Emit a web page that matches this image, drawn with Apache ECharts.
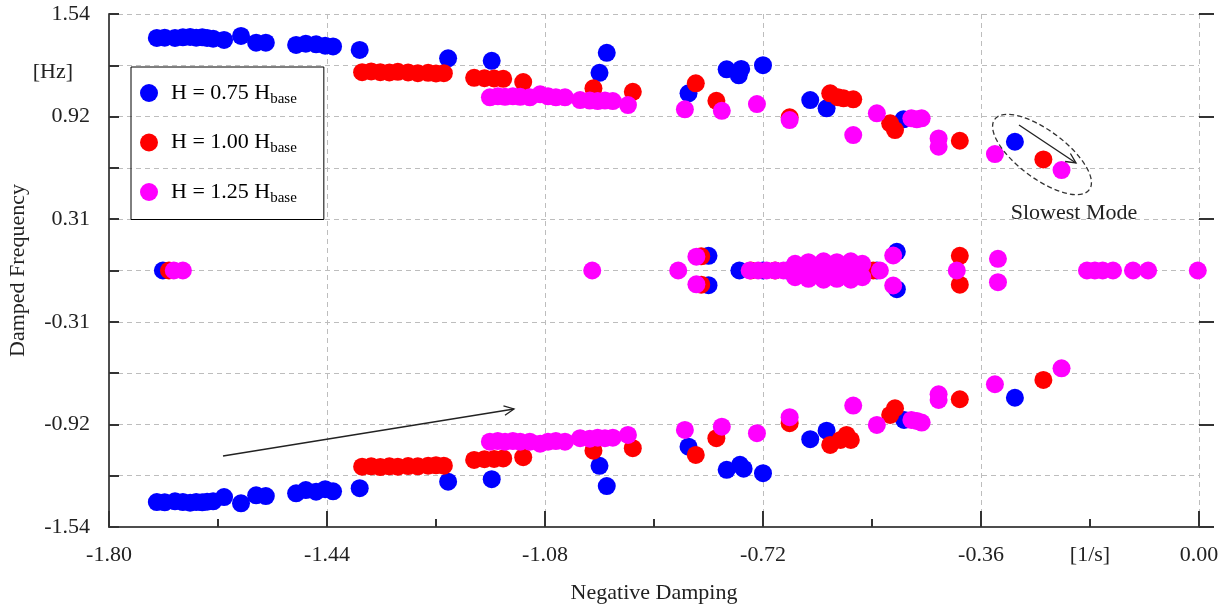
<!DOCTYPE html>
<html><head><meta charset="utf-8">
<script src="https://cdn.jsdelivr.net/npm/echarts@6/dist/echarts.min.js"></script>
<style>html,body{margin:0;padding:0;background:#fff}#chart{width:1231px;height:608px}</style>
</head><body><div id="chart"></div>
<script>
const FONT = 'Liberation Serif';
const seriesNames = ['H = 0.75 Hbase', 'H = 1.00 Hbase', 'H = 1.25 Hbase'];
const seriesColors = ['#0000ff', '#ff0000', '#ff00ff'];
const xTickLabels = ['-1.80', '-1.44', '-1.08', '-0.72', '-0.36', '0.00'];
const yTickLabels = ['-1.54', '-0.92', '-0.31', '0.31', '0.92', '1.54'];
const xUnitLabel = '[1/s]';
const yUnitLabel = '[Hz]';

// H = 0.75 Hbase
const blueUpper = [[-1.721,1.396],[-1.708,1.398],[-1.691,1.396],[-1.678,1.400],[-1.666,1.402],[-1.656,1.398],[-1.646,1.400],[-1.638,1.396],[-1.628,1.392],[-1.610,1.384],[-1.582,1.408],[-1.557,1.368],[-1.541,1.368],
  [-1.491,1.354],[-1.475,1.362],[-1.458,1.358],[-1.443,1.350],[-1.430,1.345],
  [-1.386,1.324],[-1.240,1.274],[-1.168,1.259],[-0.990,1.187],[-0.978,1.307],[-0.843,1.064],[-0.780,1.208],[-0.756,1.210],[-0.760,1.172],[-0.720,1.233],[-0.642,1.023],[-0.615,0.974],[-0.488,0.908],[-0.304,0.773]];
const blueReal = [[-1.711,0],[-0.810,0.088],[-0.810,-0.088],[-0.759,0],[-0.72,0],[-0.68,0],[-0.64,0],[-0.60,0],[-0.56,0],[-0.532,0],[-0.499,0.112],[-0.499,-0.112]];
const blueLower = [[-1.721,-1.390],[-1.708,-1.392],[-1.691,-1.386],[-1.678,-1.390],[-1.666,-1.394],[-1.656,-1.390],[-1.646,-1.392],[-1.638,-1.388],[-1.628,-1.386],[-1.610,-1.360],[-1.582,-1.398],[-1.557,-1.350],[-1.541,-1.354],
  [-1.491,-1.338],[-1.475,-1.318],[-1.458,-1.328],[-1.443,-1.313],[-1.430,-1.326],
  [-1.386,-1.307],[-1.240,-1.268],[-1.168,-1.253],[-0.990,-1.173],[-0.978,-1.294],[-0.843,-1.058],[-0.780,-1.197],[-0.758,-1.167],[-0.752,-1.190],[-0.720,-1.217],[-0.642,-1.013],[-0.615,-0.962],[-0.487,-0.897],[-0.304,-0.764]];

// H = 1.00 Hbase
const redUpper = [[-1.382,1.191],[-1.367,1.195],[-1.352,1.191],[-1.337,1.189],[-1.323,1.193],[-1.306,1.189],[-1.290,1.185],[-1.273,1.187],[-1.260,1.183],[-1.247,1.185],
  [-1.197,1.157],[-1.180,1.155],[-1.164,1.153],[-1.149,1.151],[-1.116,1.131],[-1.000,1.094],[-0.935,1.073],[-0.831,1.124],[-0.797,1.019],[-0.676,0.920],
  [-0.609,1.064],[-0.596,1.040],[-0.587,1.034],[-0.571,1.028],[-0.510,0.884],[-0.502,0.843],[-0.395,0.779],[-0.257,0.667]];
const redReal = [[-1.701,0],[-0.822,0.085],[-0.822,-0.085],[-0.74,0],[-0.70,0],[-0.66,0],[-0.62,0],[-0.58,0],[-0.538,0],[-0.395,0.088],[-0.395,-0.085]];
const redLower = [[-1.382,-1.178],[-1.367,-1.176],[-1.352,-1.180],[-1.337,-1.176],[-1.323,-1.178],[-1.306,-1.174],[-1.290,-1.176],[-1.273,-1.172],[-1.260,-1.170],[-1.247,-1.172],
  [-1.197,-1.137],[-1.180,-1.133],[-1.164,-1.131],[-1.149,-1.128],[-1.116,-1.121],[-1.000,-1.082],[-0.935,-1.067],[-0.831,-1.107],[-0.797,-1.007],[-0.676,-0.917],
  [-0.609,-1.047],[-0.592,-1.017],[-0.582,-0.987],[-0.575,-1.017],[-0.510,-0.867],[-0.502,-0.827],[-0.395,-0.773],[-0.257,-0.657]];

// H = 1.25 Hbase
const pinkUpper = [[-1.171,1.040],[-1.158,1.046],[-1.146,1.043],[-1.133,1.046],[-1.121,1.043],[-1.105,1.040],[-1.088,1.058],[-1.075,1.046],[-1.062,1.040],[-1.047,1.040],
  [-1.022,1.023],[-1.006,1.020],[-0.993,1.017],[-0.981,1.020],[-0.968,1.017],[-0.943,0.993],
  [-0.849,0.968],[-0.788,0.959],[-0.730,0.999],[-0.676,0.903],[-0.571,0.813],[-0.532,0.944],[-0.475,0.914],[-0.466,0.908],[-0.458,0.914],[-0.430,0.793],[-0.430,0.743],[-0.337,0.699],[-0.227,0.603]];
const pinkReal = [[-1.693,0],[-1.678,0],[-1.002,0],[-0.860,0],[-0.830,0.083],[-0.830,-0.083],
  [-0.742,0],[-0.728,0],[-0.714,0],[-0.700,0],[-0.686,0],[-0.674,0],
  [-0.667,0.040],[-0.667,-0.040],[-0.655,0.020],[-0.655,-0.020],[-0.645,0.050],[-0.645,-0.050],[-0.632,0.030],[-0.632,-0.030],
  [-0.620,0.055],[-0.620,-0.055],[-0.608,0.020],[-0.608,-0.020],[-0.598,0.050],[-0.598,-0.050],[-0.586,0.030],[-0.586,-0.030],
  [-0.575,0.055],[-0.575,-0.055],[-0.565,0.025],[-0.565,-0.025],[-0.556,0.040],[-0.556,-0.040],
  [-0.527,0],[-0.505,0.09],[-0.505,-0.09],[-0.400,0],[-0.332,0.07],[-0.332,-0.07],
  [-0.185,0],[-0.172,0],[-0.159,0],[-0.142,0],[-0.109,0],[-0.084,0],[-0.002,0]];
const pinkLower = [[-1.171,-1.028],[-1.158,-1.024],[-1.146,-1.028],[-1.133,-1.024],[-1.121,-1.028],[-1.105,-1.028],[-1.088,-1.040],[-1.075,-1.028],[-1.062,-1.024],[-1.047,-1.028],
  [-1.022,-1.007],[-1.006,-1.010],[-0.993,-1.004],[-0.981,-1.007],[-0.968,-1.004],[-0.943,-0.987],
  [-0.849,-0.957],[-0.788,-0.938],[-0.730,-0.977],[-0.676,-0.881],[-0.571,-0.811],[-0.532,-0.927],[-0.475,-0.897],[-0.466,-0.903],[-0.458,-0.913],[-0.430,-0.777],[-0.430,-0.743],[-0.337,-0.683],[-0.227,-0.587]];

const seriesData = [
  blueUpper.concat(blueReal, blueLower),
  redUpper.concat(redReal, redLower),
  pinkUpper.concat(pinkReal, pinkLower)
];

function arrowHead(x1, y1, x2, y2, len, ang) {
  const a = Math.atan2(y2 - y1, x2 - x1);
  return [[x2 - len * Math.cos(a - ang), y2 - len * Math.sin(a - ang)], [x2, y2], [x2 - len * Math.cos(a + ang), y2 - len * Math.sin(a + ang)]];
}
const arrowA = [[223, 456], [514, 409]];
const arrowB = [[1019, 125], [1076, 163]];

const chart = echarts.init(document.getElementById('chart'), null, { renderer: 'canvas' });
const gridLine = { show: true, lineStyle: { color: '#bdbdbd', type: [5, 4], width: 1 } };
const axisLineStyle = { color: '#4d4d4d', width: 2 };

chart.setOption({
  animation: false,
  backgroundColor: '#fff',
  grid: { left: 109, right: 32, top: 14, bottom: 81, containLabel: false, outerBoundsMode: 'none' },
  legend: {
    orient: 'vertical', left: 131, top: 67,
    padding: [15, 27, 14, 9], itemGap: 25, itemWidth: 18, itemHeight: 18,
    icon: 'circle', borderColor: '#000', borderWidth: 1,
    data: seriesNames,
    formatter: n => n.replace(/base$/, '{sub|base}'),
    textStyle: { fontFamily: FONT, fontSize: 22, color: '#000', padding: [0, 0, 0, 8],
      rich: { sub: { fontFamily: FONT, fontSize: 15, color: '#000', padding: [12, 0, 0, 0] } } }
  },
  xAxis: [{
    type: 'value', min: -1.8, max: 0, interval: 0.36,
    name: 'Negative Damping', nameLocation: 'middle', nameGap: 55,
    nameTextStyle: { fontFamily: FONT, fontSize: 22, color: '#222' },
    axisLine: { show: true, onZero: false, lineStyle: axisLineStyle },
    axisTick: { show: true, inside: true, length: 16, lineStyle: { color: '#333', width: 2 } },
    minorTick: { show: true, splitNumber: 2, length: 8, lineStyle: { color: '#333', width: 2 } },
    axisLabel: { margin: 17, fontFamily: FONT, fontSize: 22, color: '#222',
      formatter: v => xTickLabels[Math.round((v + 1.8) / 0.36)] || '' },
    splitLine: gridLine
  }, {
    type: 'value', min: -1.8, max: 0, interval: 0.18, position: 'bottom',
    axisLine: { show: false }, axisTick: { show: false }, splitLine: { show: false },
    axisLabel: { margin: 17, fontFamily: FONT, fontSize: 22, color: '#222',
      formatter: v => Math.round((v + 1.8) / 0.18) === 9 ? xUnitLabel : '' }
  }],
  yAxis: [{
    type: 'value', min: -1.54, max: 1.54, interval: 0.308,
    name: 'Damped Frequency', nameLocation: 'middle', nameGap: 80, nameRotate: 90,
    nameMoveOverlap: false,
    nameTextStyle: { fontFamily: FONT, fontSize: 22, color: '#222' },
    axisLine: { show: true, onZero: false, lineStyle: axisLineStyle },
    axisTick: { show: true, inside: true, length: 10, lineStyle: { color: '#333', width: 2 } },
    axisLabel: { margin: 19, fontFamily: FONT, fontSize: 22, color: '#222',
      formatter: v => {
        const k = Math.round((v + 1.54) / 0.308);
        if (k % 2 === 0) return yTickLabels[k / 2];
        if (k === 9) return '{hz|' + yUnitLabel + '}';
        return '';
      },
      rich: { hz: { fontFamily: FONT, fontSize: 22, color: '#222', padding: [14, 17, 0, 0] } } },
    splitLine: gridLine
  }, {
    type: 'value', min: 0, max: 5, interval: 1, position: 'left',
    axisLine: { show: false }, splitLine: { show: false }, axisLabel: { show: false },
    axisTick: { show: true, inside: true, length: 15, lineStyle: { color: '#333', width: 2 } }
  }],
  series: seriesNames.map((name, i) => ({
    name, type: 'scatter', xAxisIndex: 0, yAxisIndex: 0,
    symbol: 'circle', symbolSize: 18, z: 2 + i,
    itemStyle: { color: seriesColors[i], opacity: 1 },
    emphasis: { disabled: true },
    data: seriesData[i]
  })),
  graphic: [
    { type: 'polyline', shape: { points: arrowA }, style: { stroke: '#222', lineWidth: 1.3, fill: null }, z: 10 },
    { type: 'polyline', shape: { points: arrowHead(arrowA[0][0], arrowA[0][1], arrowA[1][0], arrowA[1][1], 11, 0.45) }, style: { stroke: '#222', lineWidth: 1.3, fill: null }, z: 10 },
    { type: 'polyline', shape: { points: arrowB }, style: { stroke: '#222', lineWidth: 1.3, fill: null }, z: 10 },
    { type: 'polyline', shape: { points: arrowHead(arrowB[0][0], arrowB[0][1], arrowB[1][0], arrowB[1][1], 11, 0.45) }, style: { stroke: '#222', lineWidth: 1.3, fill: null }, z: 10 },
    { type: 'ellipse', x: 1042, y: 154.5, rotation: -0.64, shape: { cx: 0, cy: 0, rx: 59, ry: 24 },
      style: { stroke: '#333', lineWidth: 1.3, lineDash: [5, 3], fill: null }, z: 10 },
    { type: 'text', x: 1074, y: 213, style: { text: 'Slowest Mode', font: '22px "Liberation Serif"', fill: '#222', textAlign: 'center', textVerticalAlign: 'middle' }, z: 10 }
  ]
});
</script></body></html>
